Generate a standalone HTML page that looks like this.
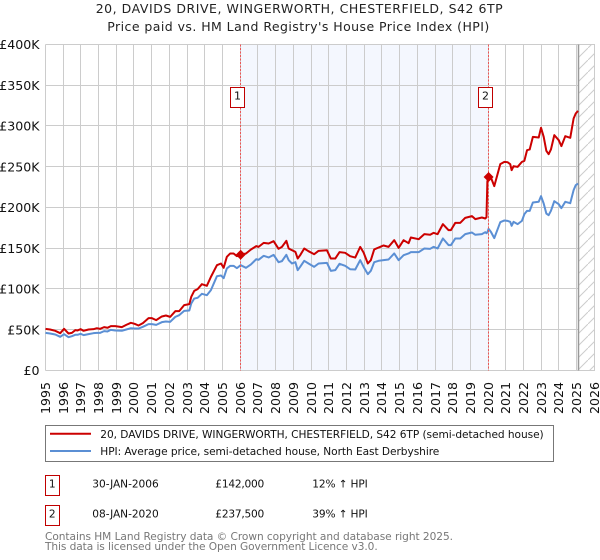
<!DOCTYPE html>
<html lang="en">
<head>
<meta charset="utf-8">
<title>20, DAVIDS DRIVE, WINGERWORTH - Price paid vs. HPI</title>
<style>
html,body{margin:0;padding:0;background:#fff;}
body{width:600px;height:560px;overflow:hidden;}
svg{display:block;font-family:"DejaVu Sans","Liberation Sans",sans-serif;}
</style>
</head>
<body>
<svg id="chart" xmlns="http://www.w3.org/2000/svg" width="600" height="560" viewBox="0 0 600 560">
  <defs>
    <pattern id="hatch" patternUnits="userSpaceOnUse" width="12" height="12">
      <path d="M0 12 L12 0" stroke="#ccc" stroke-width="1" fill="none"/>
    </pattern>
  </defs>
  <text x="95.7" y="13" textLength="407" lengthAdjust="spacing" font-size="12.5" fill="#222">20, DAVIDS DRIVE, WINGERWORTH, CHESTERFIELD, S42 6TP</text>
  <text x="107.3" y="31" textLength="382" lengthAdjust="spacing" font-size="12.5" fill="#222">Price paid vs. HM Land Registry's House Price Index (HPI)</text>
  <g id="shade"></g>
  <g id="grid"></g>
  <g id="hatchArea"></g>
  <g id="series"></g>
  <g id="sales"></g>
  <g id="yTicks"></g>
  <g id="xTicks"></g>

  <g>
    <rect x="45.5" y="425.5" width="508" height="36" fill="#fff" stroke="#777" stroke-width="1"/>
    <line x1="50" x2="91" y1="433.8" y2="433.8" stroke="#cc0000" stroke-width="2"/>
    <text x="100.3" y="438" textLength="443.4" lengthAdjust="spacing" font-size="10.6" fill="#111">20, DAVIDS DRIVE, WINGERWORTH, CHESTERFIELD, S42 6TP (semi-detached house)</text>
    <line x1="50" x2="91" y1="451" y2="451" stroke="#5b8fd4" stroke-width="2"/>
    <text x="100.3" y="455" textLength="339" lengthAdjust="spacing" font-size="10.6" fill="#111">HPI: Average price, semi-detached house, North East Derbyshire</text>
  </g>

  <g>
    <rect x="45.5" y="475.5" width="14" height="20" fill="#fff" stroke="#c00000" stroke-width="1"/>
    <text x="52.3" y="487.3" text-anchor="middle" font-size="10.6" fill="#111">1</text>
    <text x="92.3" y="487.3" textLength="66.4" lengthAdjust="spacing" font-size="10.6" fill="#111">30-JAN-2006</text>
    <text x="215.3" y="487.3" textLength="49" lengthAdjust="spacing" font-size="10.6" fill="#111">£142,000</text>
    <text x="312.3" y="487.3" textLength="55.4" lengthAdjust="spacing" font-size="10.6" fill="#111">12% ↑ HPI</text>
  </g>
  <g>
    <rect x="45.5" y="505.5" width="14" height="20" fill="#fff" stroke="#c00000" stroke-width="1"/>
    <text x="52.3" y="517.3" text-anchor="middle" font-size="10.6" fill="#111">2</text>
    <text x="92.3" y="517.3" textLength="66.4" lengthAdjust="spacing" font-size="10.6" fill="#111">08-JAN-2020</text>
    <text x="215.3" y="517.3" textLength="49" lengthAdjust="spacing" font-size="10.6" fill="#111">£237,500</text>
    <text x="312.3" y="517.3" textLength="55.4" lengthAdjust="spacing" font-size="10.6" fill="#111">39% ↑ HPI</text>
  </g>

  <text x="45" y="540" textLength="408" lengthAdjust="spacing" font-size="10.6" fill="#777">Contains HM Land Registry data © Crown copyright and database right 2025.</text>
  <text x="45" y="550" textLength="332.7" lengthAdjust="spacing" font-size="10.6" fill="#777">This data is licensed under the Open Government Licence v3.0.</text>
</svg>

<script>
var dates = [1995.00,1995.26,1995.55,1995.83,1996.05,1996.30,1996.49,1996.68,1996.81,1996.98,1997.15,1997.43,1997.71,1997.90,1998.09,1998.31,1998.50,1998.69,1998.94,1999.31,1999.56,1999.82,2000.03,2000.25,2000.50,2000.82,2001.01,2001.25,2001.57,2001.80,2002.04,2002.33,2002.55,2002.83,2003.12,2003.23,2003.40,2003.59,2003.83,2004.11,2004.34,2004.68,2004.91,2005.06,2005.24,2005.43,2005.62,2005.81,2006.02,2006.32,2006.60,2006.90,2007.03,2007.32,2007.60,2007.88,2008.16,2008.35,2008.60,2008.73,2008.92,2009.11,2009.24,2009.38,2009.61,2009.85,2010.17,2010.42,2010.89,2011.11,2011.36,2011.60,2011.92,2012.20,2012.49,2012.77,2012.96,2013.20,2013.37,2013.56,2013.81,2014.09,2014.37,2014.69,2014.94,2015.22,2015.50,2015.63,2016.07,2016.39,2016.72,2016.91,2017.14,2017.44,2017.76,2017.89,2018.14,2018.42,2018.70,2019.08,2019.27,2019.64,2019.83,2019.90,2019.95,2020.02,2020.15,2020.34,2020.68,2020.91,2021.09,2021.24,2021.32,2021.43,2021.66,2021.90,2022.04,2022.19,2022.34,2022.52,2022.85,2022.98,2023.13,2023.28,2023.41,2023.54,2023.73,2023.98,2024.13,2024.35,2024.63,2024.82,2024.94,2025.07];
var priceSeries = [51.1,50.3,48.7,45.8,51.1,45.4,46.2,49.5,49.1,50.7,48.7,50.3,50.7,51.9,51.1,53.2,52.4,54.4,54.4,53.2,56.0,58.5,57.3,55.2,58.1,64.2,64.2,61.8,66.3,67.5,65.8,72.8,72.8,80.2,81.4,90.4,97.8,99.8,105.9,103.9,114.9,129.2,131.3,126.0,139.5,143.6,143.6,140.3,142.0,143.6,148.5,152.6,151.7,156.6,155.8,158.7,149.3,151.7,159.1,149.7,147.6,145.6,137.4,141.5,149.7,146.4,142.7,146.8,147.6,137.4,137.4,145.2,144.4,140.3,138.6,151.7,144.8,131.3,135.4,148.5,150.9,153.4,151.7,159.9,150.5,159.9,156.2,163.2,161.1,167.3,166.5,168.9,167.3,179.6,172.2,172.2,181.2,181.2,187.3,189.4,185.7,187.7,186.5,188.0,232.0,237.5,236.8,226.2,253.2,256.0,255.6,253.2,245.8,250.7,249.9,256.0,257.3,270.3,271.2,286.7,285.9,297.8,286.7,269.5,265.4,271.2,288.8,282.6,275.3,287.5,285.5,309.2,315.3,318.6];
var hpiSeries = [46.2,45.4,44.2,41.3,44.6,40.9,42.1,43.8,43.8,45.0,43.4,44.6,45.8,46.2,46.2,48.3,47.9,49.9,49.1,48.7,50.3,51.9,51.5,51.5,53.6,56.9,56.9,56.0,59.3,60.1,59.7,65.8,67.9,73.2,73.6,82.2,88.3,89.2,94.1,92.4,98.6,115.7,116.6,113.3,125.2,128.4,128.4,125.6,129.2,126.0,130.1,136.6,135.8,140.7,138.7,141.9,132.9,134.2,141.9,135.4,131.3,132.9,123.1,127.2,134.6,131.3,127.2,131.3,132.1,122.3,123.1,130.9,128.4,124.3,123.9,135.4,127.2,118.2,122.3,132.9,134.6,135.4,136.2,143.6,135.4,141.5,143.6,145.2,145.2,149.7,149.3,151.7,149.7,162.0,153.8,153.8,162.0,162.0,167.3,169.3,166.5,167.3,169.7,168.5,169.5,173.8,170.1,162.4,182.0,184.1,183.6,182.4,177.5,182.4,179.6,183.6,191.8,195.9,195.9,206.1,207.0,213.9,204.9,192.6,190.6,195.9,207.8,204.1,199.2,207.0,205.3,221.3,227.4,229.4];
var yTickValues = [0,50,100,150,200,250,300,350,400];
var yTickLabels = ["£0","£50K","£100K","£150K","£200K","£250K","£300K","£350K","£400K"];
var xTickYears = [1995,1996,1997,1998,1999,2000,2001,2002,2003,2004,2005,2006,2007,2008,2009,2010,2011,2012,2013,2014,2015,2016,2017,2018,2019,2020,2021,2022,2023,2024,2025,2026];
var saleLabels = ["1","2"];
var saleDates = [2006.02,2020.02];
var saleValues = [142,237.5];
var dataEndYear = 2025.1;

var SVGNS = "http://www.w3.org/2000/svg";
function xScale(year){ return 45.5 + (year - 1995) * 17.71; }
function yScale(k){ return 370.5 - k * 0.815; }
function snap(v){ return Math.floor(v - 0.1 + 1e-6) + 0.5; }
function mk(tag, parent, attrs){
  var el = document.createElementNS(SVGNS, tag);
  for (var k in attrs) el.setAttribute(k, attrs[k]);
  parent.appendChild(el);
  return el;
}
var plotL = snap(xScale(1995)), plotR = snap(xScale(2026)), plotT = snap(yScale(400)), plotB = snap(yScale(0));

var shadeG = document.getElementById("shade");
var shadeRect = mk("rect", shadeG, {x: snap(xScale(2006)), y: plotT, width: snap(xScale(2020)) - snap(xScale(2006)), height: plotB - plotT, fill: "#f4f7fe"});



var gridG = document.getElementById("grid");
yTickValues.forEach(function(v){
  var y = snap(yScale(v));
  var line = mk("line", gridG, {x1: plotL, x2: plotR, y1: y, y2: y, stroke: "#ccc", "stroke-width": 1});
  
  
});
xTickYears.forEach(function(yr){
  var x = snap(xScale(yr));
  var line = mk("line", gridG, {x1: x, x2: x, y1: plotT, y2: plotB, stroke: "#ccc", "stroke-width": 1});
  
  
});

var hatchG = document.getElementById("hatchArea");
var hx = Math.floor(xScale(dataEndYear)) + 0.5;
var hatchRect = mk("rect", hatchG, {x: hx, y: plotT, width: plotR - hx, height: plotB - plotT, fill: "#fff"});


var hatchFill = mk("rect", hatchG, {x: hx, y: plotT, width: plotR - hx, height: plotB - plotT, fill: "url(#hatch)", stroke: "#ccc", "stroke-width": 1});


var hatchEdge = mk("line", hatchG, {x1: hx, x2: hx, y1: plotT, y2: plotB, stroke: "#999", "stroke-width": 1.5});



var salesG = document.getElementById("sales");
saleDates.forEach(function(d){
  var x = snap(xScale(Math.floor(d)));
  var v = mk("line", salesG, {x1: x, x2: x, y1: plotT, y2: plotB, stroke: "#ee5555", "stroke-width": 1, "stroke-dasharray": "2 1.5"});
  
  
});

function pathFor(values){
  return values.map(function(v, i){
    return (i ? "L" : "M") + xScale(dates[i]).toFixed(2) + " " + yScale(v).toFixed(2);
  }).join(" ");
}
var seriesG = document.getElementById("series");
var hpiPath = mk("path", seriesG, {d: pathFor(hpiSeries), fill: "none", stroke: "#5b8fd4", "stroke-width": 2, "stroke-linejoin": "round"});


var pricePath = mk("path", seriesG, {d: pathFor(priceSeries), fill: "none", stroke: "#cc0000", "stroke-width": 2, "stroke-linejoin": "round"});



saleDates.forEach(function(d, i){
  var x = xScale(d), y = yScale(saleValues[i]), r = 5;
  var dm = mk("polygon", salesG, {points: [x,y-r,x+r,y,x,y+r,x-r,y].join(" "), fill: "#cc0000"});
  
  
  var bx = snap(xScale(Math.floor(d))) - 10;
  var box = mk("rect", salesG, {x: bx, y: 87.5, width: 14, height: 20, fill: "#fff", stroke: "#c00000", "stroke-width": 1});
  
  
  var t = mk("text", salesG, {x: bx + 7, y: 99.5, "text-anchor": "middle", "font-size": 11, fill: "#111"});
  
  
  t.textContent = saleLabels[i];
});

var yG = document.getElementById("yTicks");
yTickValues.forEach(function(v, i){
  var t = mk("text", yG, {x: 39.5, y: yScale(v) + 4.5, "text-anchor": "end", "font-size": 12.6, fill: "#111"});
  
  
  t.textContent = yTickLabels[i];
});
var xG = document.getElementById("xTicks");
xTickYears.forEach(function(yr){
  var x = snap(xScale(yr)) + 4.5;
  var t = mk("text", xG, {x: x, y: 414, "font-size": 12.6, fill: "#111", transform: "rotate(-90 " + x + " 414)"});
  
  
  t.textContent = String(yr);
});
</script>
</body>
</html>
